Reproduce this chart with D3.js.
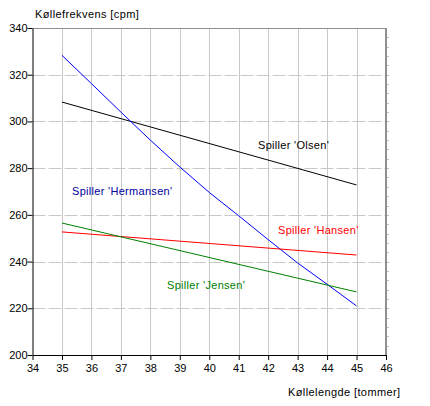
<!DOCTYPE html>
<script src="https://d3js.org/d3.v7.min.js"></script>
<body style="margin:0;background:#fff">
<script>
// Club length (inches) and swing frequency (cpm) for each player.
const lengths = [35, 36, 37, 38, 39, 40, 41, 42, 43, 44, 45];
const endLengths = [35, 45];
const olsen = [308.3, 272.8];
const hermansen = [328.3, 316.2, 304.0, 292.0, 280.5, 269.6, 259.6, 249.4, 239.4, 230.3, 221.0];
const hansen = [252.7, 242.8];
const jensen = [256.5, 227.0];
const xTicks = d3.range(34, 47);
const yTicks = d3.range(200, 341, 20);

const players = [
    {name: "Spiller 'Olsen'", xs: endLengths, values: olsen, line: "#000000", text: "#000000", lx: 258, ly: 149},
    {name: "Spiller 'Hermansen'", xs: lengths, values: hermansen, line: "#0000ff", text: "#0000a0", lx: 72, ly: 195},
    {name: "Spiller 'Hansen'", xs: endLengths, values: hansen, line: "#ff0000", text: "#ff0000", lx: 278, ly: 234},
    {name: "Spiller 'Jensen'", xs: endLengths, values: jensen, line: "#008000", text: "#008000", lx: 167, ly: 289}
];

let svg = d3.select("body").append("svg")
    .attr("width", 430)
    .attr("height", 406)
    .style("font-family", "'Liberation Sans', Arial, sans-serif")
    .style("font-size", "11px");

let x = d3.scaleLinear().domain([34, 46]).range([32.5, 386]);
let y = d3.scaleLinear().domain([200, 340]).range([355, 28]);

// Grid: solid verticals, dashed horizontals.
svg.append("g").selectAll("line").data(xTicks.slice(1, -1)).join("line")
    .attr("x1", d => Math.round(x(d)) + 0.5).attr("x2", d => Math.round(x(d)) + 0.5)
    .attr("y1", y(340)).attr("y2", y(200))
    .attr("stroke", "#c8c8c8");
svg.append("g").selectAll("line").data(yTicks.slice(1, -1)).join("line")
    .attr("x1", x(34)).attr("x2", x(46))
    .attr("y1", d => Math.round(y(d)) + 0.5).attr("y2", d => Math.round(y(d)) + 0.5)
    .attr("stroke", "#c8c8c8")
    .attr("stroke-dasharray", "13,3");

// Top and right frame in gray, with minor ticks outside the right edge.
svg.append("line")
    .attr("x1", x(34)).attr("x2", x(46))
    .attr("y1", y(340) + 0.5).attr("y2", y(340) + 0.5)
    .attr("stroke", "#909090");
svg.append("line")
    .attr("x1", x(46)).attr("x2", x(46))
    .attr("y1", y(340)).attr("y2", y(200))
    .attr("stroke", "#909090").attr("stroke-width", 2);
svg.append("g").selectAll("line").data(d3.range(204, 340, 4)).join("line")
    .attr("x1", x(46) + 1).attr("x2", x(46) + 3)
    .attr("y1", d => Math.round(y(d)) + 0.5).attr("y2", d => Math.round(y(d)) + 0.5)
    .attr("stroke", "#c0c0c0");

// Axes.
let xAxis = svg.append("g")
    .attr("transform", `translate(0,${y(200)})`)
    .call(d3.axisBottom(x).tickValues(xTicks).tickSize(5).tickSizeOuter(0).tickPadding(4));
let yAxis = svg.append("g")
    .attr("transform", `translate(${x(34)},0)`)
    .call(d3.axisLeft(y).tickValues(yTicks).tickSize(5).tickSizeOuter(0).tickPadding(0));
[xAxis, yAxis].forEach(a => {
    a.selectAll("text").attr("fill", "#000").style("font-size", "11px")
        .style("font-family", "'Liberation Sans', Arial, sans-serif");
    a.selectAll("line, path").attr("stroke", "#000");
});

// Player lines.
let line = d3.line().x(d => x(d[0])).y(d => y(d[1]));
svg.append("g").selectAll("path").data(players).join("path")
    .attr("d", d => line(d3.zip(d.xs, d.values)))
    .attr("fill", "none")
    .attr("stroke", d => d.line)
    .attr("stroke-width", 1);

svg.append("g").selectAll("text").data(players).join("text")
    .attr("x", d => d.lx).attr("y", d => d.ly)
    .attr("fill", d => d.text)
    .style("letter-spacing", "0.3px")
    .text(d => d.name);

// Axis titles.
svg.append("text").attr("x", 35).attr("y", 18).style("letter-spacing", "0.4px").text("Køllefrekvens [cpm]");
svg.append("text").attr("x", 288).attr("y", 396).style("letter-spacing", "0.4px").text("Køllelengde [tommer]");
</script>
</body>
</html>
